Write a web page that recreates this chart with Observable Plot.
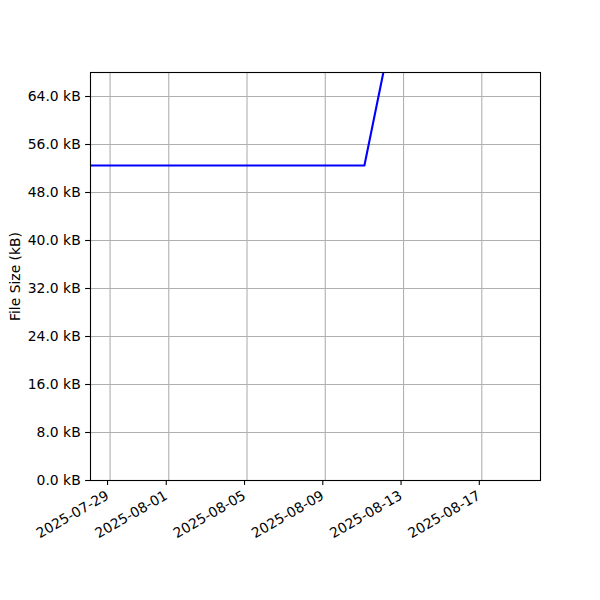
<!DOCTYPE html>
<html>
<head>
<meta charset="utf-8">
<script src="https://cdn.jsdelivr.net/npm/d3@7"></script>
<script src="https://cdn.jsdelivr.net/npm/@observablehq/plot@0.6"></script>
<style>
  html, body { margin: 0; padding: 0; background: #fff; }
</style>
</head>
<body>
<div id="chart"></div>
<script>
// Data
const dates = ["2025-07-28", "2025-08-11", "2025-08-12"];
const sizesKB = [52.5, 52.5, 68.5];
const xTickLabels = ["2025-07-29", "2025-08-01", "2025-08-05", "2025-08-09", "2025-08-13", "2025-08-17"];
const yTicks = [0, 8, 16, 24, 32, 40, 48, 56, 64];
const xDomain = ["2025-07-28", "2025-08-20"];
const yDomain = [0, 68];
const yLabel = "File Size (kB)";

const data = dates.map((d, i) => ({date: new Date(d), size: sizesKB[i]}));
const xTicks = xTickLabels.map(d => new Date(d));
const fmtDate = d3.utcFormat("%Y-%m-%d");

const chart = Plot.plot({
  width: 600,
  height: 600,
  marginLeft: 90,
  marginRight: 60,
  marginTop: 72,
  marginBottom: 120,
  style: {fontFamily: "DejaVu Sans", fontSize: "13.9px", color: "black", background: "white"},
  x: {type: "utc", domain: xDomain.map(d => new Date(d))},
  y: {domain: yDomain},
  marks: [
    Plot.gridX(xTicks, {stroke: "#b0b0b0", strokeOpacity: 1, strokeWidth: 1.1}),
    Plot.gridY(yTicks, {stroke: "#b0b0b0", strokeOpacity: 1, strokeWidth: 1.1}),
    Plot.line(data, {x: "date", y: "size", stroke: "#0000ff", strokeWidth: 2.1, clip: true}),
    Plot.frame({stroke: "black", strokeWidth: 1.1}),
    Plot.axisY({
      ticks: yTicks,
      tickSize: 4.9,
      tickPadding: 4.9,
      tickFormat: d => d.toFixed(1) + " kB",
      strokeWidth: 1.1,
      label: yLabel,
      labelAnchor: "center",
      labelArrow: "none",
      labelOffset: 80
    }),
    Plot.axisX({
      ticks: xTicks,
      tickSize: 4.9,
      tickRotate: -30,
      tickPadding: 9,
      dx: -2.5,
      tickFormat: fmtDate,
      strokeWidth: 1.1,
      label: null
    })
  ]
});
document.getElementById("chart").appendChild(chart);
</script>
</body>
</html>
